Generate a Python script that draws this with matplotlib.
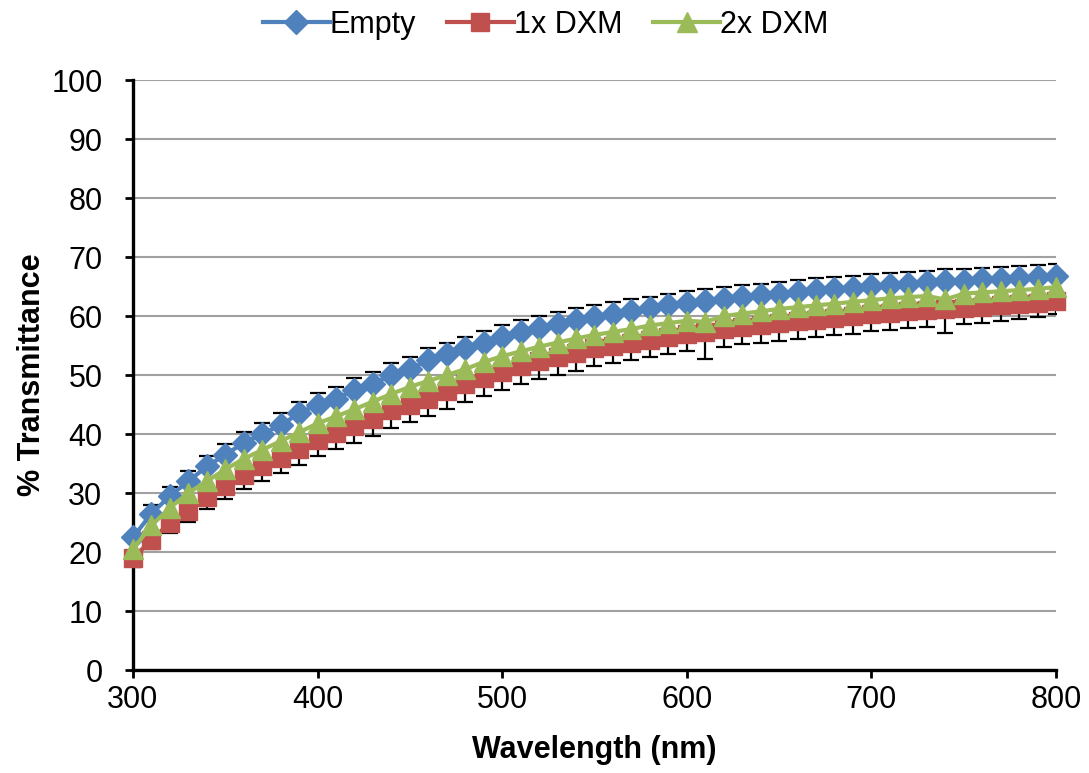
import numpy as np
import matplotlib
matplotlib.use('Agg')
from matplotlib import pyplot as plt

plt.rcParams['font.family'] = ['Liberation Sans', 'DejaVu Sans']

# Datos
longitud_onda = list(range(300, 801, 10))

vacio = [22.5, 26.5, 29.5, 32.0, 34.5, 36.5, 38.5, 40.0, 41.5, 43.5,
         45.0, 46.0, 47.5, 48.5, 50.0, 51.0, 52.5, 53.5, 54.5, 55.5,
         56.5, 57.3, 58.0, 58.7, 59.3, 59.8, 60.3, 60.8, 61.3, 61.8,
         62.2, 62.5, 62.9, 63.2, 63.5, 63.8, 64.1, 64.4, 64.6, 64.8,
         65.1, 65.3, 65.5, 65.7, 65.9, 66.0, 66.2, 66.3, 66.5, 66.6, 66.8]
vacio_err = [1.2, 1.5, 1.6, 1.7, 1.8, 1.8, 1.9, 1.9, 2.0, 2.0,
             2.0, 2.0, 2.0, 2.0, 2.0, 2.0, 2.0, 2.0, 2.0, 2.0,
             2.0, 2.0, 2.0, 2.0, 2.0, 2.0, 2.0, 2.0, 2.0, 2.0,
             2.0, 2.0, 2.0, 2.0, 2.0, 2.0, 2.0, 2.0, 2.0, 2.0,
             2.0, 2.0, 2.0, 2.0, 2.0, 2.0, 2.0, 2.0, 2.0, 2.0, 2.0]

dxm1 = [19.0, 22.0, 25.0, 27.0, 29.3, 31.2, 33.0, 34.5, 36.0, 37.5,
        39.0, 40.2, 41.3, 42.5, 44.0, 45.0, 46.0, 47.3, 48.5, 49.5,
        50.5, 51.5, 52.3, 53.0, 53.7, 54.5, 55.0, 55.5, 56.0, 56.5,
        57.0, 57.3, 57.8, 58.2, 58.5, 58.8, 59.1, 59.4, 59.7, 60.0,
        60.3, 60.5, 60.8, 61.0, 61.2, 61.4, 61.6, 61.8, 62.0, 62.2, 62.5]
dxm1_err = [1.5, 1.5, 1.7, 1.9, 2.0, 2.2, 2.4, 2.5, 2.6, 2.7,
            2.8, 2.8, 2.9, 2.9, 3.0, 3.0, 3.0, 3.0, 3.0, 3.0,
            3.0, 3.0, 3.0, 3.0, 3.0, 3.0, 3.0, 3.0, 3.0, 3.0,
            3.0, 4.5, 3.0, 3.0, 3.0, 3.0, 3.0, 3.0, 3.0, 3.0,
            2.8, 2.8, 2.8, 2.8, 4.0, 2.8, 2.8, 2.6, 2.5, 2.4, 2.2]

dxm2 = [20.5, 24.5, 27.5, 30.0, 32.0, 34.0, 35.8, 37.3, 38.8, 40.3,
        41.8, 43.0, 44.2, 45.5, 46.8, 48.0, 49.0, 50.0, 51.0, 52.2,
        53.2, 54.0, 54.8, 55.5, 56.2, 56.8, 57.3, 57.8, 58.4, 58.8,
        59.2, 59.0, 60.0, 60.4, 60.8, 61.2, 61.5, 61.8, 62.1, 62.4,
        62.7, 63.0, 63.2, 63.4, 62.8, 63.8, 64.0, 64.2, 64.4, 64.6, 64.9]

azul = '#4F81BD'
rojo = '#C0504D'
verde = '#9BBB59'

fig = plt.figure(figsize=(10.89, 7.73), dpi=100)
ax = fig.add_axes([0.1221, 0.1332, 0.8476, 0.7633])

ceros = np.zeros(len(longitud_onda))

# Empty: barras hacia arriba
ax.errorbar(longitud_onda, vacio, yerr=[ceros, vacio_err], fmt='none',
            ecolor='black', elinewidth=1.6, capsize=6, capthick=1.6, zorder=2)
ax.plot(longitud_onda, vacio, color=azul, lw=3, marker='D', ms=12.5,
        label='Empty', zorder=3, clip_on=False)

# 1x DXM: barras hacia abajo
ax.errorbar(longitud_onda, dxm1, yerr=[dxm1_err, ceros], fmt='none',
            ecolor='black', elinewidth=1.6, capsize=6, capthick=1.6, zorder=4)
ax.plot(longitud_onda, dxm1, color=rojo, lw=3, marker='s', ms=12.5,
        label='1x DXM', zorder=5, clip_on=False)

ax.plot(longitud_onda, dxm2, color=verde, lw=3, marker='^', ms=15,
        label='2x DXM', zorder=6, clip_on=False)

ax.set_xlim(300, 800)
ax.set_ylim(0, 100)
ax.set_xticks(range(300, 801, 100))
ax.set_yticks(range(0, 101, 10))
ax.yaxis.grid(True, color='#A0A0A0', lw=1.5)
ax.set_axisbelow(True)

for lado in ['top', 'right']:
    ax.spines[lado].set_visible(False)
for lado in ['left', 'bottom']:
    ax.spines[lado].set_linewidth(2.4)
ax.tick_params(axis='both', labelsize=22, width=2, length=6, direction='out')
ax.tick_params(axis='x', pad=5)
ax.tick_params(axis='y', pad=16)

ax.set_xlabel('Wavelength (nm)', fontsize=22, fontweight='bold', labelpad=14)
ax.set_ylabel('% Transmittance', fontsize=22, fontweight='bold', labelpad=3)

ax.legend(loc='upper center', bbox_to_anchor=(0.447, 1.14), ncol=3, frameon=False,
          fontsize=22, handlelength=2.2, handletextpad=0.0, columnspacing=1.0,
          borderaxespad=0)

fig.savefig('out.png', dpi=100)
